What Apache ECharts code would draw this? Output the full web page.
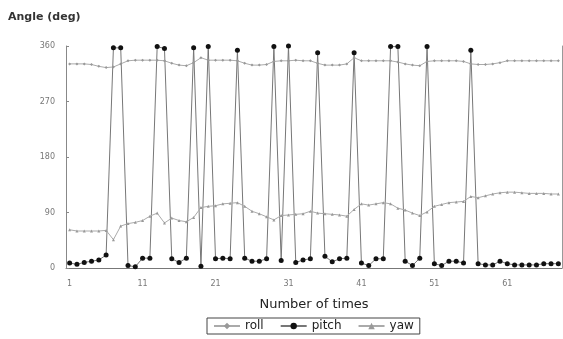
<!DOCTYPE html>
<html>
<head>
<meta charset="utf-8">
<script src="https://cdn.jsdelivr.net/npm/echarts@6/dist/echarts.min.js"></script>
<style>
  html, body { margin: 0; padding: 0; background: #fff; }
  #chart { width: 563px; height: 339px; }
</style>
</head>
<body>
<div id="chart"></div>
<script>
// 測定回数 1..68
const categories = []
for (let i = 1; i <= 68; i++) categories.push(String(i))

const yTicks = [0, 90, 180, 270, 360]

const roll = [331, 331, 331, 330, 327, 325, 326, 331, 336, 337, 337, 337, 337, 336, 332, 329, 328, 333, 341, 337,
  337, 337, 337, 336, 332, 329, 329, 330, 335, 336, 336, 337, 336, 336, 332, 329, 329, 329, 331, 341,
  336, 336, 336, 336, 336, 334, 331, 329, 328, 335, 336, 336, 336, 336, 335, 331, 330, 330, 331, 333,
  336, 336, 336, 336, 336, 336, 336, 336]

const pitch = [8, 6, 9, 11, 13, 21, 357, 357, 4, 2, 16, 16, 359, 356, 15, 9, 16, 357, 3, 359,
  15, 16, 15, 353, 16, 11, 11, 15, 359, 12, 360, 9, 13, 15, 349, 19, 10, 15, 16, 349,
  8, 4, 15, 15, 359, 359, 11, 4, 16, 359, 7, 4, 11, 11, 8, 353, 7, 5, 5, 11,
  7, 5, 5, 5, 5, 7, 7, 7]

const yaw = [62, 60, 60, 60, 60, 61, 46, 68, 72, 74, 77, 84, 89, 73, 81, 77, 75, 82, 98, 100,
  101, 104, 105, 106, 100, 92, 88, 83, 78, 85, 86, 87, 88, 92, 89, 88, 87, 86, 84, 95,
  104, 102, 104, 106, 104, 97, 94, 89, 85, 91, 100, 103, 106, 107, 108, 116, 114, 117, 120, 122,
  123, 123, 122, 121, 121, 121, 120, 120]

const font = 'DejaVu Sans'
const chart = echarts.init(document.getElementById('chart'))
const option = {
    animation: false,
    textStyle: { fontFamily: font },
    graphic: [{
        type: 'text', left: 8, top: 12,
        style: { text: 'Angle (deg)', font: 'bold 11px ' + font, fill: '#333' }
    }],
    grid: { left: 66, right: 1, top: 46, bottom: 71 },
    legend: {
        left: 207, top: 318,
        padding: [2, 6],
        itemGap: 16,
        itemWidth: 26,
        itemHeight: 8,
        borderColor: '#444',
        borderWidth: 1,
        textStyle: { fontSize: 12, color: '#222', fontFamily: font },
        data: ['roll', 'pitch', 'yaw']
    },
    xAxis: {
        type: 'category',
        data: categories,
        boundaryGap: true,
        name: 'Number of times',
        nameLocation: 'middle',
        nameGap: 30,
        nameTextStyle: { fontSize: 13, color: '#222', fontFamily: font },
        axisLine: { lineStyle: { color: '#777' } },
        axisTick: { show: false },
        axisLabel: { interval: 9, fontSize: 8, color: '#777', margin: 12 },
        splitLine: { show: false }
    },
    yAxis: [{
        type: 'value',
        min: 0, max: 360, interval: 90,
        axisLine: { show: true, lineStyle: { color: '#888' } },
        axisTick: { show: true, inside: true, length: 3, lineStyle: { color: '#888' } },
        axisLabel: {
            fontSize: 8, color: '#777', margin: 11,
            formatter: v => yTicks.includes(v) ? String(v) : ''
        },
        splitLine: { show: false }
    }, {
        type: 'value',
        position: 'right',
        min: 0, max: 360, interval: 90,
        axisLine: { show: true, lineStyle: { color: '#999' } },
        axisTick: { show: false },
        axisLabel: { show: false },
        splitLine: { show: false }
    }],
    series: [
        {
            name: 'roll', type: 'line', data: roll,
            showAllSymbol: true,
            symbol: 'diamond', symbolSize: 3,
            itemStyle: { color: '#999' },
            lineStyle: { color: '#aaa', width: 1 }
        },
        {
            name: 'pitch', type: 'line', data: pitch,
            showAllSymbol: true,
            symbol: 'circle', symbolSize: 5,
            itemStyle: { color: '#111' },
            lineStyle: { color: '#777', width: 1 }
        },
        {
            name: 'yaw', type: 'line', data: yaw,
            showAllSymbol: true,
            symbol: 'triangle', symbolSize: 3,
            itemStyle: { color: '#999' },
            lineStyle: { color: '#aaa', width: 1 }
        }
    ]
}
chart.setOption(option)
</script>
</body>
</html>
